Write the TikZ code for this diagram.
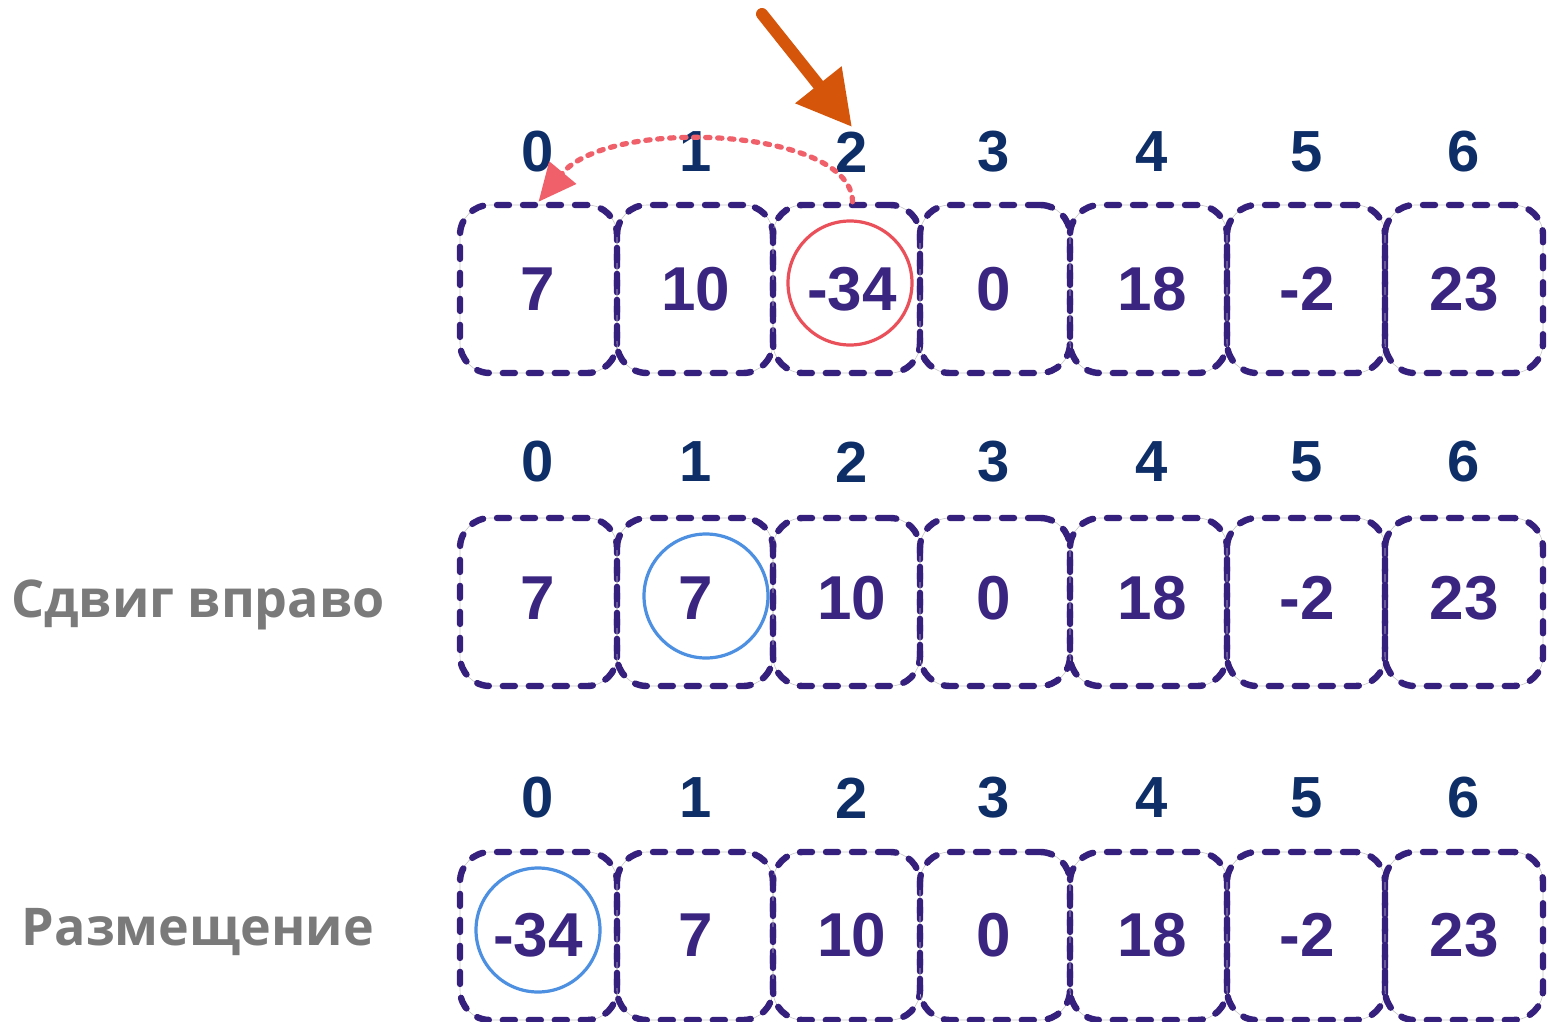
\documentclass[tikz,border=0pt]{standalone}
\usepackage{fontspec}
\setmainfont{Liberation Sans}
\newfontfamily\captionfont{Open Sans}
\usetikzlibrary{arrows.meta}
\definecolor{cellline}{HTML}{36207E}
\definecolor{cellnum}{HTML}{3A2580}
\definecolor{indexnum}{HTML}{0E2E68}
\definecolor{hotred}{HTML}{E9505A}
\definecolor{movered}{HTML}{F0606A}
\definecolor{pickblue}{HTML}{4D8FE0}
\definecolor{pointer}{HTML}{D5550A}
\definecolor{caption}{HTML}{7A7A7A}
\begin{document}
\begin{tikzpicture}[x=0.5pt,y=-0.5pt,
  cell/.style={draw=cellline, line width=3.2pt, line cap=round, dash pattern=on 6pt off 7pt,
    rounded corners=15pt, minimum height=84pt, inner sep=0pt,
    preaction={draw=black!22, line width=0.3pt, solid}},
  num/.style={text=cellnum, font=\fontsize{31}{36}\selectfont\bfseries, inner sep=0pt},
  idx/.style={text=indexnum, font=\fontsize{29}{34}\selectfont\bfseries, inner sep=0pt},
  ring/.style={circle, draw=#1, line width=1.6pt, minimum size=62pt, inner sep=0pt},
  rowcaption/.style={text=caption, font=\captionfont\fontsize{26}{31}\selectfont\bfseries, inner sep=0pt},
  shiftarrow/.style={draw=movered, line width=2.6pt, line cap=round, dash pattern=on 2.2pt off 3.8pt,
    -{Triangle[length=19pt,width=17pt,fill=movered]}},
  pointerarrow/.style={draw=pointer, line width=6pt, line cap=round,
    -{Triangle[length=27pt,width=28pt,fill=pointer]}}
]
\useasboundingbox (0,0) rectangle (1548,1022);

% cell frames: column/centre/width
\foreach \c/\x/\w in {0/538.5/157, 1/695/156, 2/846.5/147, 3/995/150,
                      4/1148.5/157, 5/1306/158, 6/1464/158} {
  \node[cell, minimum width=\w*0.5pt] (r1c\c) at (\x,289) {};
  \node[cell, minimum width=\w*0.5pt] (r2c\c) at (\x,602) {};
  \node[cell, minimum width=\w*0.5pt] (r3c\c) at (\x,936) {};
}

% index labels and values: column/x/row1/row2/row3
\foreach \c/\x/\a/\b/\d in {0/538/7/7/-34, 1/696/10/7/7, 2/852/-34/10/10, 3/994/0/0/0,
                            4/1152/18/18/18, 5/1307/-2/-2/-2, 6/1464/23/23/23} {
  \node[idx] (i1c\c) at (\x,152) {\c};
  \node[idx] (i2c\c) at (\x,462) {\c};
  \node[idx] (i3c\c) at (\x,798) {\c};
  \node[num] (v1c\c) at (\x,289) {\a};
  \node[num] (v2c\c) at (\x,598) {\b};
  \node[num] (v3c\c) at (\x,935) {\d};
}

% highlighted elements
\node[ring=hotred] (hot) at (850,283) {};
\node[ring=pickblue] (copy) at (706,596) {};
\node[ring=pickblue] (placed) at (538,930) {};

% row captions
\node[rowcaption] (capshift) at (198,605) {Сдвиг вправо};
\node[rowcaption] (capplace) at (198,932) {Размещение};

% key pointer and move arrow
\coordinate (ptrstart) at (762,14);
\coordinate (ptrend) at (852,127);
\draw[pointerarrow] (ptrstart) -- (ptrend);
\draw[shiftarrow] ([xshift=3pt]r1c2.north) .. controls (852,128) and (610,116) .. (r1c0.north);
\end{tikzpicture}
\end{document}
